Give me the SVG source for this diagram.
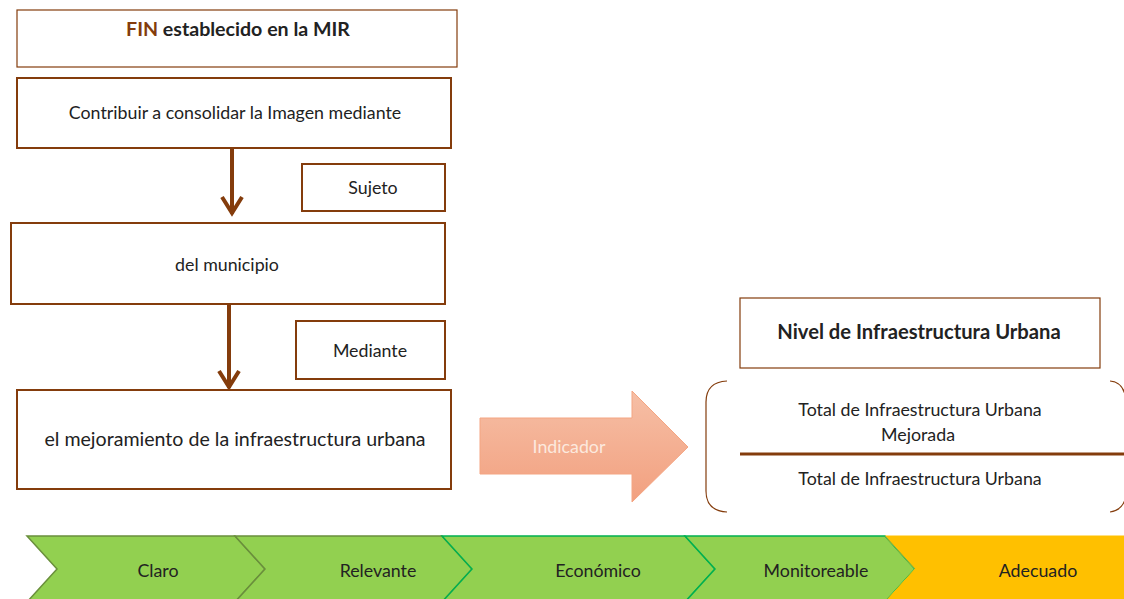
<svg xmlns="http://www.w3.org/2000/svg" width="1124" height="599" viewBox="0 0 1124 599">
<style>
text{font-family:Lato,"Open Sans","Liberation Sans",sans-serif;fill:#222;text-anchor:middle;font-size:17.8px}
.b{font-weight:bold;font-size:19.6px}
.box{fill:#fff;stroke:#843C0C;stroke-width:2}
.thin{stroke-width:1.2}
.conn{stroke:#843C0C;stroke-width:4;fill:none}
.g{fill:#92D050}
.s1{stroke:#6A8F3C;stroke-width:1.5}
.s2{stroke:#00B050;stroke-width:1.5}
</style>
<defs>
<linearGradient id="ig" x1="0" y1="0" x2="0" y2="1">
<stop offset="0" stop-color="#F6BFA6"/>
<stop offset="1" stop-color="#F2A07F"/>
</linearGradient>
</defs>
<g id="fin"><rect class="box thin" x="17" y="10" width="440" height="57"/>
<text x="238" y="36" class="b"><tspan fill="#843C0C">FIN</tspan> establecido en la MIR</text></g>
<g id="contribuir"><rect class="box" x="17" y="78" width="434" height="70"/>
<text x="235" y="119">Contribuir a consolidar la Imagen mediante</text></g>
<g id="sujeto"><rect class="box" x="302" y="164" width="143" height="47"/>
<text x="373" y="194">Sujeto</text></g>
<g id="municipio"><rect class="box" x="11" y="223" width="434" height="81"/>
<text x="227" y="271">del municipio</text></g>
<g id="mediante"><rect class="box" x="296" y="321" width="149" height="58"/>
<text x="370" y="357">Mediante</text></g>
<g id="mejoramiento"><rect class="box" x="17" y="390" width="434" height="99"/>
<text x="235" y="446" style="font-size:19.6px">el mejoramiento de la infraestructura urbana</text></g>
<g id="connectors">
<path class="conn" d="M232 148V214M222 197L232 213L242 197"/>
<path class="conn" d="M229 304V388M219 371L229 387L239 371"/>
</g>
<g id="indicador"><path d="M480 418H632V391L688 447L632 502V474H480Z" fill="url(#ig)" stroke="#F4A582" stroke-width="1"/>
<text x="569" y="453" style="fill:#FCE9DE">Indicador</text></g>
<g id="nivel"><rect class="box thin" x="740" y="298" width="360" height="70"/>
<text x="919" y="339" class="b" style="font-size:20.2px">Nivel de Infraestructura Urbana</text></g>
<g id="formula">
<path d="M727 381Q706 382 706 402V491Q706 511 727 512" fill="none" stroke="#843C0C" stroke-width="1.2"/>
<path d="M1110 381Q1124 382 1126 400M1126 495Q1124 510 1110 512" fill="none" stroke="#843C0C" stroke-width="1.2"/>
<line x1="740" y1="454" x2="1124" y2="454" stroke="#843C0C" stroke-width="3"/>
<text x="920" y="416">Total de Infraestructura Urbana</text>
<text x="918" y="441">Mejorada</text>
<text x="920" y="485">Total de Infraestructura Urbana</text>
</g>
<g id="claro"><path class="g s1" d="M27 536H235L265 569L235 602H27L57 569Z"/><text x="158" y="577">Claro</text></g>
<g id="relevante"><path class="g s1" d="M235 536H442L472 569L442 602H235L265 569Z"/><text x="378" y="577">Relevante</text></g>
<g id="economico"><path class="g s2" d="M442 536H685L715 569L685 602H442L472 569Z"/><text x="598" y="577">Económico</text></g>
<g id="monitoreable"><path class="g s2" d="M685 536H885L915 569L885 602H685L715 569Z"/><text x="816" y="577">Monitoreable</text></g>
<g id="adecuado"><path d="M885 536H1130V602H885L915 569Z" fill="#FFC000" stroke="#FFC000"/><path d="M885 536L915 569" stroke="#6AB04C" stroke-width="1" fill="none"/><text x="1038" y="577">Adecuado</text></g>
</svg>
